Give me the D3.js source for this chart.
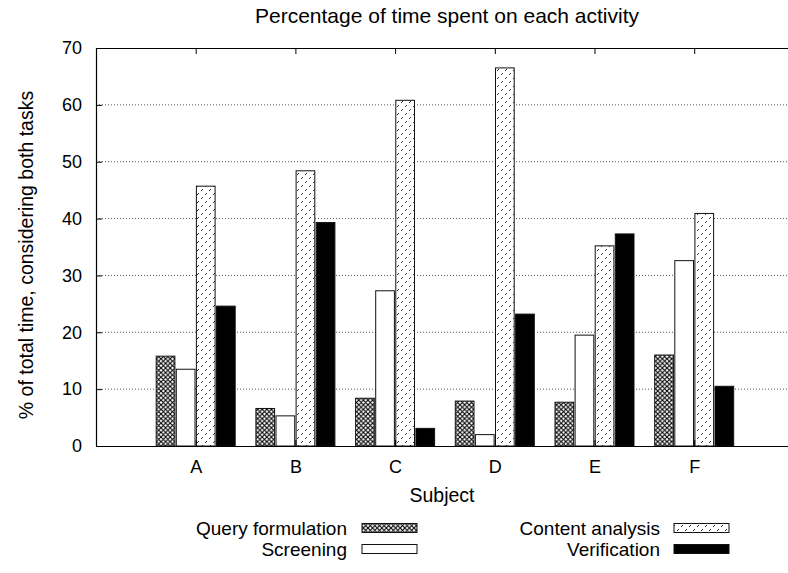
<!DOCTYPE html>
<html>
<head>
<meta charset="utf-8">
<script src="https://cdn.jsdelivr.net/npm/d3@7"></script>
<style>
  body { margin: 0; background: #fff; }
  svg { display: block; font-family: "Liberation Sans", Arial, sans-serif; }
</style>
</head>
<body>
<div id="chart"></div>
<script>
const width = 788;
const height = 573;

const subjects = ["A", "B", "C", "D", "E", "F"];
const seriesNames = ["Query formulation", "Screening", "Content analysis", "Verification"];
const queryFormulation = [15.8, 6.6, 8.4, 7.9, 7.7, 16.0];
const screening = [13.5, 5.3, 27.3, 2.0, 19.5, 32.6];
const contentAnalysis = [45.7, 48.4, 60.8, 66.5, 35.2, 40.9];
const verification = [24.6, 39.3, 3.1, 23.2, 37.3, 10.5];
const yTicks = [0, 10, 20, 30, 40, 50, 60, 70];

const seriesValues = [queryFormulation, screening, contentAnalysis, verification];
const fills = ["url(#cross)", "#fff", "url(#dashes)", "#000"];

const margin = { top: 48, left: 96, bottom: 127 };
const plotBottom = height - margin.bottom;

const svg = d3.select("#chart")
    .append("svg")
    .attr("width", width)
    .attr("height", height);

// patterns
const defs = svg.append("defs");
const cross = defs.append("pattern")
    .attr("id", "cross")
    .attr("patternUnits", "userSpaceOnUse")
    .attr("width", 4.6).attr("height", 4.6);
cross.append("rect").attr("width", 4.6).attr("height", 4.6).attr("fill", "#fff");
cross.append("path")
    .attr("d", "M0,0L4.6,4.6M4.6,0L0,4.6")
    .attr("stroke", "#000").attr("stroke-width", 1.1);

const dashes = defs.append("pattern")
    .attr("id", "dashes")
    .attr("patternUnits", "userSpaceOnUse")
    .attr("width", 8).attr("height", 8);
dashes.append("rect").attr("width", 8).attr("height", 8).attr("fill", "#fff");
dashes.append("path")
    .attr("d", "M1,7L3,5M5,3L7,1")
    .attr("stroke", "#222").attr("stroke-width", 0.9);

// scales
const x = d3.scaleLinear()
    .domain([-1, 7])
    .range([margin.left, margin.left + 8 * 99.7]);

const inner = d3.scaleBand()
    .domain(seriesNames)
    .range([-39.5, 39.5])
    .paddingInner(0.07);

const y = d3.scaleLinear()
    .domain([0, 70])
    .range([plotBottom, margin.top]);

// grid lines
svg.append("g")
    .selectAll("line")
    .data(yTicks.filter(d => d > 0 && d < 70))
    .join("line")
    .attr("x1", margin.left)
    .attr("x2", width)
    .attr("y1", d => y(d))
    .attr("y2", d => y(d))
    .attr("stroke", "#555")
    .attr("stroke-width", 1)
    .attr("stroke-dasharray", "1,2");

// bars
const groups = svg.append("g")
    .selectAll("g")
    .data(seriesNames)
    .join("g")
    .attr("fill", (d, i) => fills[i]);

groups.selectAll("rect")
    .data((name, si) => seriesValues[si].map((v, i) => ({ name, v, i })))
    .join("rect")
    .attr("x", d => x(d.i) + inner(d.name))
    .attr("width", inner.bandwidth())
    .attr("y", d => y(d.v))
    .attr("height", d => plotBottom - y(d.v))
    .attr("stroke", "#111")
    .attr("stroke-width", 1);

// axes
const yAxis = svg.append("g")
    .attr("transform", `translate(${margin.left},0)`)
    .call(d3.axisLeft(y).tickValues(yTicks).tickSizeInner(-6).tickSizeOuter(0).tickPadding(14));
yAxis.select(".domain").attr("stroke-width", 1.2);

const xAxis = svg.append("g")
    .attr("transform", `translate(0,${plotBottom})`)
    .call(d3.axisBottom(x).tickValues(d3.range(subjects.length))
        .tickFormat(i => subjects[i]).tickSizeInner(-6).tickSizeOuter(0).tickPadding(14));
xAxis.select(".domain").attr("stroke-width", 1.2);

const xTop = svg.append("g")
    .attr("transform", `translate(0,${margin.top})`)
    .call(d3.axisTop(x).tickValues(d3.range(subjects.length))
        .tickFormat("").tickSizeInner(-6).tickSizeOuter(0));
xTop.select(".domain").attr("stroke-width", 1.2);

svg.selectAll(".tick text")
    .attr("font-size", 18)
    .attr("fill", "#000")
    .attr("font-family", "Liberation Sans, Arial, sans-serif");

// titles
svg.append("text")
    .attr("x", 447)
    .attr("y", 23)
    .attr("text-anchor", "middle")
    .attr("font-size", 21)
    .text("Percentage of time spent on each activity");

svg.append("text")
    .attr("x", 442)
    .attr("y", 502)
    .attr("text-anchor", "middle")
    .attr("font-size", 19.5)
    .text("Subject");

svg.append("text")
    .attr("transform", `translate(33,${(margin.top + plotBottom) / 2 + 8}) rotate(-90)`)
    .attr("text-anchor", "middle")
    .attr("font-size", 19.5)
    .text("% of total time, considering both tasks");

// legend
const legendPos = [
    { tx: 347, sx: 362, cy: 528 },
    { tx: 347, sx: 362, cy: 549 },
    { tx: 660, sx: 674, cy: 528 },
    { tx: 660, sx: 674, cy: 549 }
];

const legend = svg.append("g")
    .selectAll("g")
    .data(seriesNames)
    .join("g")
    .attr("transform", (d, i) => `translate(0,${legendPos[i].cy})`);

legend.append("text")
    .attr("x", (d, i) => legendPos[i].tx)
    .attr("dy", "0.35em")
    .attr("text-anchor", "end")
    .attr("font-size", 19)
    .text(d => d);

legend.append("rect")
    .attr("x", (d, i) => legendPos[i].sx)
    .attr("y", -4.5)
    .attr("width", 55)
    .attr("height", 9)
    .attr("fill", (d, i) => fills[i])
    .attr("stroke", "#111")
    .attr("stroke-width", 1);
</script>
</body>
</html>
